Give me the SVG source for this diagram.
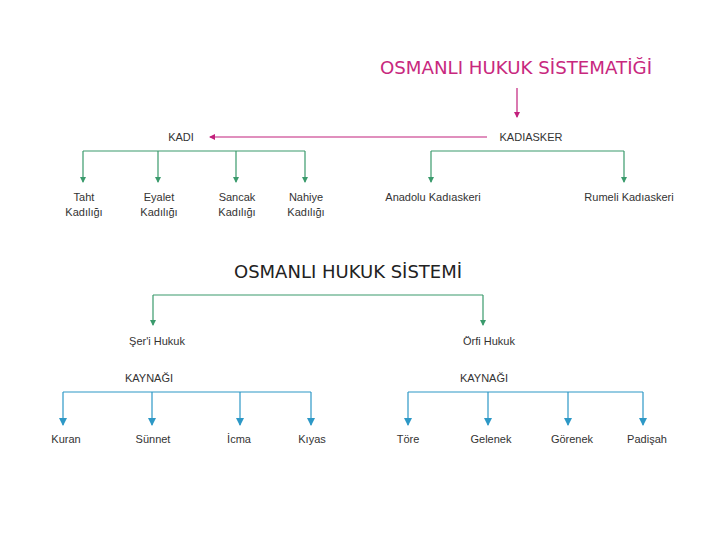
<svg xmlns="http://www.w3.org/2000/svg" width="720" height="540" viewBox="0 0 720 540">
<style>
.t{font-family:"Liberation Sans",Arial,sans-serif;font-size:11px;fill:#333;text-anchor:middle}
.h{font-family:"DejaVu Sans","Liberation Sans",sans-serif;font-size:18px;text-anchor:middle}
.m{stroke:#c2207c;stroke-width:1.2;fill:none}
.g{stroke:#3a9a6c;stroke-width:1.2;fill:none}
.b{stroke:#2d98c6;stroke-width:1.2;fill:none}
</style>
<defs>
<marker id="am" viewBox="0 0 6 6" refX="5" refY="3" markerWidth="6" markerHeight="6" orient="auto" markerUnits="userSpaceOnUse"><path d="M0,0L6,3L0,6z" fill="#c2207c"/></marker>
<marker id="ag" viewBox="0 0 6 6" refX="5" refY="3" markerWidth="6" markerHeight="6" orient="auto" markerUnits="userSpaceOnUse"><path d="M0,0L6,3L0,6z" fill="#3a9a6c"/></marker>
<marker id="ab" viewBox="0 0 8 8" refX="7" refY="4" markerWidth="8" markerHeight="8" orient="auto" markerUnits="userSpaceOnUse"><path d="M0,0L8,4L0,8z" fill="#2d98c6"/></marker>
</defs>
<rect width="720" height="540" fill="#fff"/>
<g id="connectors">
<path class="m" d="M517,88V117" marker-end="url(#am)"/>
<path class="m" d="M487,137H210" marker-end="url(#am)"/>
<path class="g" d="M83,151H305"/>
<path class="g" d="M83,151V182" marker-end="url(#ag)"/>
<path class="g" d="M158,151V182" marker-end="url(#ag)"/>
<path class="g" d="M236,151V182" marker-end="url(#ag)"/>
<path class="g" d="M305,151V182" marker-end="url(#ag)"/>
<path class="g" d="M431,151H624"/>
<path class="g" d="M431,151V182" marker-end="url(#ag)"/>
<path class="g" d="M624,151V182" marker-end="url(#ag)"/>
<path class="g" d="M153,295H483"/>
<path class="g" d="M153,295V325" marker-end="url(#ag)"/>
<path class="g" d="M483,295V325" marker-end="url(#ag)"/>
<path class="b" d="M63,392H311"/>
<path class="b" d="M63,392V425" marker-end="url(#ab)"/>
<path class="b" d="M152,392V425" marker-end="url(#ab)"/>
<path class="b" d="M240,392V425" marker-end="url(#ab)"/>
<path class="b" d="M311,392V425" marker-end="url(#ab)"/>
<path class="b" d="M408,392H643"/>
<path class="b" d="M408,392V425" marker-end="url(#ab)"/>
<path class="b" d="M488,392V425" marker-end="url(#ab)"/>
<path class="b" d="M568,392V425" marker-end="url(#ab)"/>
<path class="b" d="M643,392V425" marker-end="url(#ab)"/>
</g>
<g id="title1"><text class="h" x="516" y="74" fill="#c8287e" textLength="272" lengthAdjust="spacingAndGlyphs">OSMANLI HUKUK SİSTEMATİĞİ</text></g>
<g id="kadiasker"><text class="t" x="531" y="141">KADIASKER</text></g>
<g id="kadi"><text class="t" x="181" y="141">KADI</text></g>
<g id="taht"><text class="t" x="84" y="201">Taht</text><text class="t" x="84" y="216">Kadılığı</text></g>
<g id="eyalet"><text class="t" x="159" y="201">Eyalet</text><text class="t" x="159" y="216">Kadılığı</text></g>
<g id="sancak"><text class="t" x="237" y="201">Sancak</text><text class="t" x="237" y="216">Kadılığı</text></g>
<g id="nahiye"><text class="t" x="306" y="201">Nahiye</text><text class="t" x="306" y="216">Kadılığı</text></g>
<g id="anadolu"><text class="t" x="433" y="201">Anadolu Kadıaskeri</text></g>
<g id="rumeli"><text class="t" x="629" y="201">Rumeli Kadıaskeri</text></g>
<g id="title2"><text class="h" x="348" y="278" fill="#222" textLength="228" lengthAdjust="spacingAndGlyphs">OSMANLI HUKUK SİSTEMİ</text></g>
<g id="seri"><text class="t" x="157" y="345">Şer'i Hukuk</text></g>
<g id="orfi"><text class="t" x="489" y="345">Örfi Hukuk</text></g>
<g id="kaynagi1"><text class="t" x="149" y="382">KAYNAĞI</text></g>
<g id="kaynagi2"><text class="t" x="484" y="382">KAYNAĞI</text></g>
<g id="kuran"><text class="t" x="66" y="443">Kuran</text></g>
<g id="sunnet"><text class="t" x="153" y="443">Sünnet</text></g>
<g id="icma"><text class="t" x="239" y="443">İcma</text></g>
<g id="kiyas"><text class="t" x="312" y="443">Kıyas</text></g>
<g id="tore"><text class="t" x="408" y="443">Töre</text></g>
<g id="gelenek"><text class="t" x="491" y="443">Gelenek</text></g>
<g id="gorenek"><text class="t" x="572" y="443">Görenek</text></g>
<g id="padisah"><text class="t" x="647" y="443">Padişah</text></g>
</svg>
